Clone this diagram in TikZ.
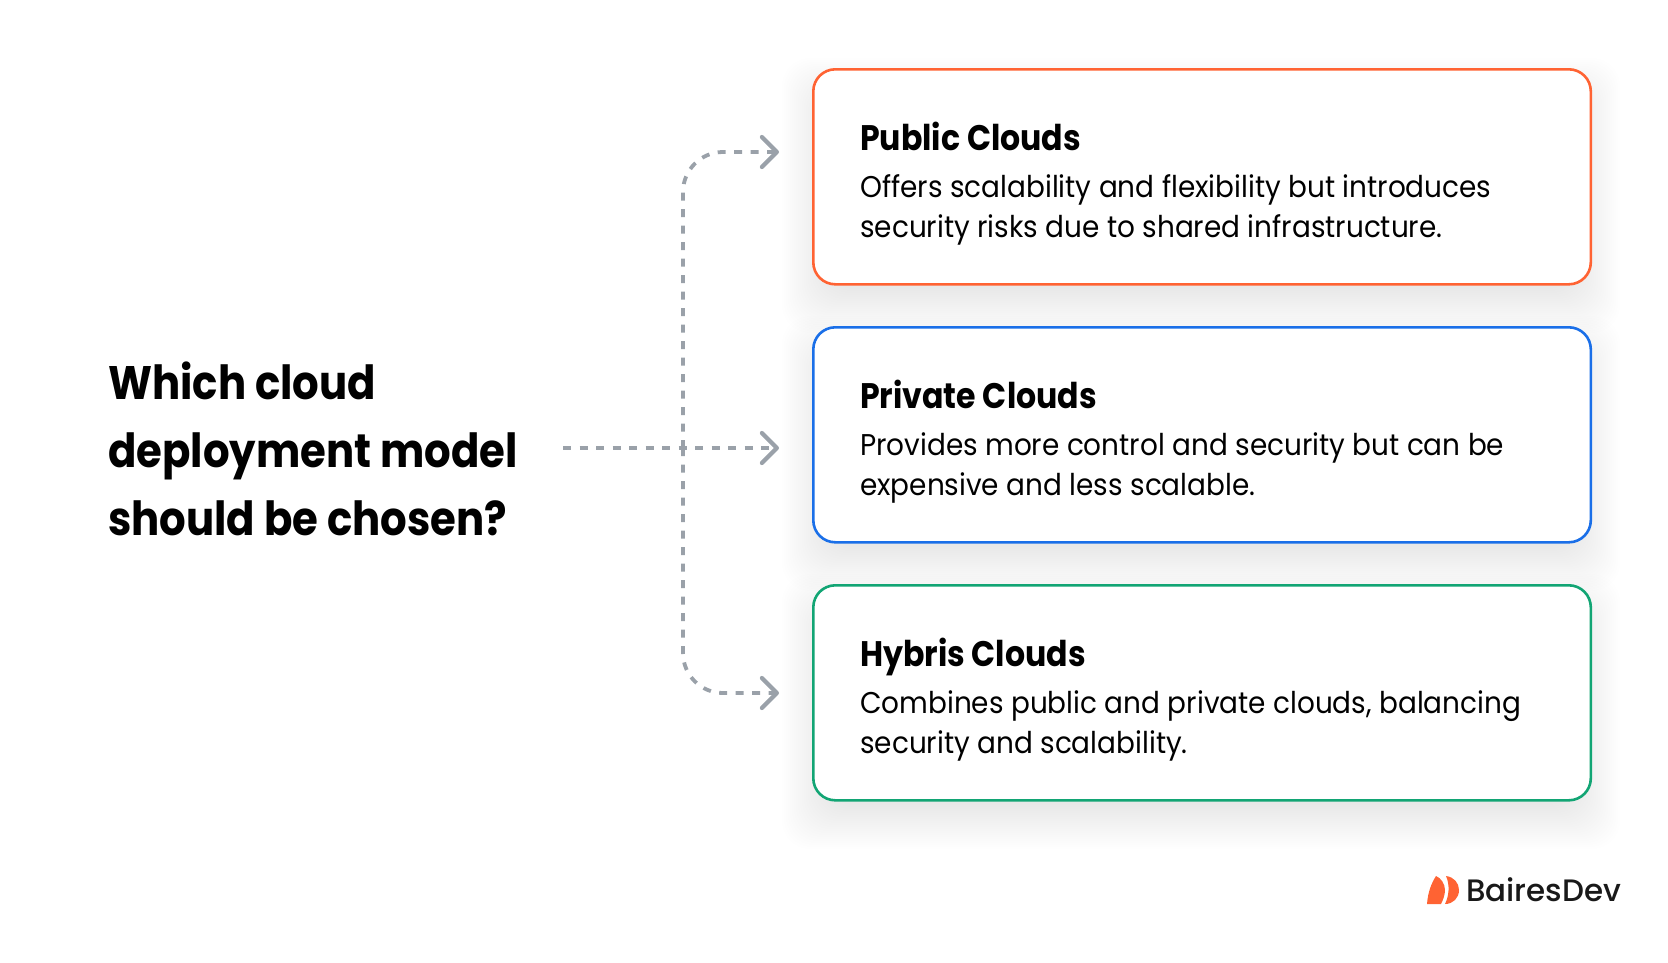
\documentclass[tikz,border=0pt]{standalone}
\usepackage{fontspec}
\setmainfont{Poppins}
\newfontfamily\titlefont[FakeStretch=0.89]{Poppins Bold}
\newfontfamily\bodyfont[FakeStretch=0.93]{Poppins}
\newfontfamily\logofont[FakeStretch=0.998]{Poppins Medium}
\usetikzlibrary{arrows.meta}
\definecolor{pubc}{HTML}{FF6333}
\definecolor{pric}{HTML}{1A6FE8}
\definecolor{hybc}{HTML}{12A574}
\definecolor{linkc}{HTML}{9AA1A9}
\tikzset{
 x=1pt,y=-1pt,
 card/.style={draw=#1,line width=2.6pt,fill=white,rounded corners=22pt,minimum width=777.5pt,minimum height=215pt,anchor=north west,inner sep=0pt},
 cardtext/.style={anchor=north west,align=left,inner sep=0pt,text=black,font=\bodyfont\fontsize{30}{40.2}\selectfont},
 headtext/.style={anchor=north west,inner sep=0pt,text=black,font=\titlefont\fontsize{35.5}{40}\selectfont},
 link/.style={draw=linkc,line width=3.8pt,dash pattern=on 8pt off 8.5pt,rounded corners=40pt,-{Straight Barb[length=15pt,width=30pt,line width=4.2pt,round]}},
}
\newcommand{\softshadow}[4]{%
 \foreach \s in {0,2,...,44}{%
  \fill[black,opacity=0.0042,rounded corners=28pt] (#1-30+\s,#2+20-30+\s) rectangle (#3+30-\s,#4+20+30-\s);}}
\begin{document}
\begin{tikzpicture}
\useasboundingbox (0,0) rectangle (1668,962);
\softshadow{812}{68}{1590}{283}
\softshadow{812}{326}{1590}{541}
\softshadow{812}{584}{1590}{799}
\node[card=pubc] (pub) at (812,68) {};
\node[card=pric] (pri) at (812,326) {};
\node[card=hybc] (hyb) at (812,584) {};
\node[headtext] (pubh) at (860,121.5) {Public Clouds};
\node[cardtext] (pubt) at (860,174) {Offers scalability and flexibility but introduces\\security risks due to shared infrastructure.};
\node[headtext] (prih) at (860,379.5) {Private Clouds};
\node[cardtext] (prit) at (860,432) {Provides more control and security but can be\\expensive and less scalable.};
\node[headtext] (hybh) at (860,637.5) {Hybris Clouds};
\node[cardtext] (hybt) at (860,690) {Combines public and private clouds, balancing\\security and scalability.};
\node[anchor=north west,align=left,inner sep=0pt,font=\titlefont\fontsize{47}{68}\selectfont] (q) at (108,361.5) {Which cloud\\deployment model\\should be chosen?};
\coordinate (src) at (563,448);
\coordinate (jun) at (683,448);
\coordinate (endpub) at (779,152);
\coordinate (endpri) at (779,448);
\coordinate (endhyb) at (779,693);
\draw[link] (src) -- (endpri);
\draw[link] (jun) -- (jun |- endpub) -- (endpub);
\draw[link] (jun) -- (jun |- endhyb) -- (endhyb);
\fill[pubc] (1427,904) .. controls (1428,892) and (1431,884) .. (1436,876) .. controls (1441,878) and (1445,884) .. (1445,890) .. controls (1445,895) and (1443,900) .. (1441,904) -- cycle;
\fill[pubc] (1446,876) .. controls (1454,877) and (1459,883) .. (1459,890) .. controls (1459,898) and (1453,904) .. (1445,904) .. controls (1449,896) and (1450,885) .. (1446,876) -- cycle;
\node[anchor=base west,inner sep=0pt,text=black!90,font=\logofont\fontsize{31}{36}\selectfont] (logo) at (1466,901) {BairesDev};
\end{tikzpicture}
\end{document}
